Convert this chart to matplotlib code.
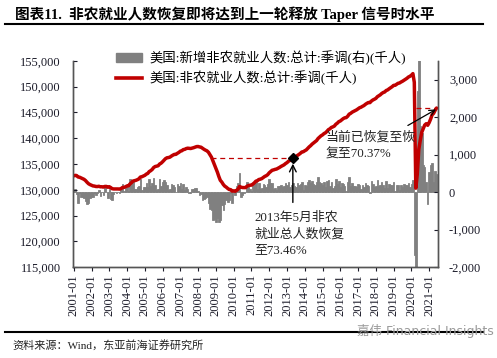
import numpy as np
import pandas as pd
import matplotlib
matplotlib.use('Agg')
import matplotlib.pyplot as plt
from matplotlib.ticker import FuncFormatter
from matplotlib.lines import Line2D
from matplotlib.patches import Patch

plt.rcParams['font.family'] = ['Liberation Serif', 'Noto Sans CJK SC']
plt.rcParams['axes.unicode_minus'] = False

# US nonfarm payrolls, SA, thousands (2001-01 .. 2021-06)
level_dec2000 = 132640
payems = [
    132698, 132788, 132750, 132465, 132429, 132292, 132170, 132016, 131775, 131452, 131168, 131001,  # 2001
    130870, 130741, 130711, 130630, 130618, 130672, 130573, 130580, 130513, 130638, 130648, 130491,  # 2002
    130586, 130414, 130203, 130153, 130155, 130143, 130153, 130127, 130233, 130441, 130461, 130581,  # 2003
    130739, 130780, 131116, 131366, 131676, 131757, 131826, 131950, 132112, 132464, 132528, 132657,  # 2004
    132794, 133034, 133157, 133519, 133690, 133932, 134303, 134502, 134567, 134650, 134990, 135150,  # 2005
    135429, 135743, 136022, 136199, 136243, 136323, 136529, 136712, 136860, 136860, 137068, 137239,  # 2006
    137477, 137566, 137780, 137836, 137984, 138059, 138024, 137998, 138077, 138157, 138272, 138369,  # 2007
    138386, 138302, 138250, 138035, 137845, 137676, 137543, 137263, 136804, 136323, 135584, 134879,  # 2008
    134092, 133388, 132585, 131831, 131499, 131030, 130701, 130502, 130246, 130043, 130019, 129738,  # 2009
    129775, 129707, 129876, 130122, 130635, 130497, 130426, 130414, 130412, 130676, 130801, 130878,  # 2010
    130895, 131108, 131334, 131660, 131741, 131980, 132049, 132157, 132380, 132582, 132718, 132924,  # 2011
    133283, 133534, 133775, 133851, 133951, 134018, 134168, 134334, 134525, 134673, 134833, 135072,  # 2012
    135262, 135534, 135674, 135870, 136100, 136265, 136407, 136640, 136833, 137050, 137324, 137369,  # 2013
    137563, 137726, 137998, 138313, 138547, 138850, 139069, 139271, 139542, 139939, 140212, 140464,  # 2014
    140641, 140905, 141033, 141324, 141648, 141815, 142082, 142197, 142350, 142700, 142919, 143206,  # 2015
    143331, 143563, 143790, 143952, 143990, 144261, 144658, 144816, 145050, 145202, 145366, 145496,  # 2016
    145711, 145911, 146004, 146183, 146327, 146573, 146758, 146920, 146898, 147196, 147416, 147551,  # 2017
    147719, 148048, 148212, 148410, 148667, 148860, 148963, 149250, 149369, 149590, 149789, 149985,  # 2018
    150245, 150261, 150452, 150642, 150704, 150891, 151039, 151243, 151423, 151610, 151864, 152003,  # 2019
    152212, 152523, 150840, 130303, 133002, 137802, 139566, 141149, 141865, 142545, 142809, 142503,  # 2020
    143036, 143746, 144531, 144809, 145372, 145850,                                                  # 2021
]
first_month = '2001-01'

months = pd.date_range(first_month, periods=len(payems), freq='MS')
change = np.diff(np.r_[level_dec2000, payems])

bar_label = '美国:新增非农就业人数:总计:季调(右)(千人)'
line_label = '美国:非农就业人数:总计:季调(千人)'

red = '#C00000'
grey = '#808080'
tick_col = '#1c1c2a'

fig = plt.figure(figsize=(4.97, 3.58), dpi=100)
ax = fig.add_axes([0.147, 0.254, 0.734, 0.576])
ax2 = ax.twinx()

ax2.bar(months, change, width=31, color=grey, edgecolor=grey, linewidth=0.6)
ax.plot(months, payems, color=red, lw=2.5, solid_capstyle='round')

ax.set_zorder(ax2.get_zorder() + 1)
ax.patch.set_visible(False)

ax.set_ylim(115000, 155000)
ax2.set_ylim(-2000, 3500)
ax.set_xlim(pd.Timestamp('2000-12-18'), pd.Timestamp('2021-06-28'))

ax.set_yticks(range(115000, 155001, 5000))
ax2.set_yticks(range(-2000, 3001, 1000))
fmt = FuncFormatter(lambda v, p: '{:,.0f}'.format(v))
ax.yaxis.set_major_formatter(fmt)
ax2.yaxis.set_major_formatter(fmt)

xt = pd.date_range('2001-01-01', '2021-01-01', freq='YS')
ax.set_xticks(xt)
ax.set_xticklabels([d.strftime('%Y-%m') for d in xt], rotation=90)

ax.tick_params(axis='y', direction='in', length=3, labelsize=9, pad=9, colors=tick_col)
ax2.tick_params(axis='y', direction='in', length=3, labelsize=9, pad=8, colors=tick_col)
ax.tick_params(axis='x', direction='out', length=3, labelsize=9, pad=2, colors=tick_col)
for a in (ax, ax2):
    a.spines['top'].set_visible(False)
    for s in ('left', 'right', 'bottom'):
        a.spines[s].set_color('#555555')
        a.spines[s].set_linewidth(1)

# annotation 1: 2013-05
d1 = pd.Timestamp('2013-05-01')
v1 = payems[list(months).index(d1)]
ax.plot([pd.Timestamp('2008-10-01'), d1], [v1, v1], color=red, lw=0.9, ls=(0, (4, 3)))
ax.plot([d1], [v1], marker='D', color='black', ms=5)
ax.annotate('', xy=(d1, v1 - 500), xytext=(d1, 127000),
            arrowprops=dict(arrowstyle='->', color='black', lw=1, mutation_scale=12))
ax.text(pd.Timestamp('2011-03-01'), 125800, '2013年5月非农\n就业总人数恢复\n至73.46%',
        fontsize=9.3, va='top', ha='left', linespacing=1.45, color='#222222')

# annotation 2: latest
v2 = payems[-1]
ax.plot([pd.Timestamp('2020-04-01'), pd.Timestamp('2021-08-10')], [v2, v2],
        color=red, lw=0.9, ls=(0, (4, 3)), clip_on=False)
ax.annotate('', xy=(pd.Timestamp('2021-07-10'), v2), xytext=(pd.Timestamp('2019-09-01'), 142200),
            arrowprops=dict(arrowstyle='->', color='black', lw=0.9, mutation_scale=10),
            annotation_clip=False)
ax.text(pd.Timestamp('2015-03-01'), 141300, '当前已恢复至恢\n复至70.37%',
        fontsize=9.3, va='top', ha='left', linespacing=1.45, color='#222222')

handles = [Patch(color=grey), Line2D([], [], color=red, lw=2.6)]
fig.legend(handles, [bar_label, line_label], loc='upper left',
           bbox_to_anchor=(0.222, 0.874), frameon=False, fontsize=9.6,
           handlelength=2.0, handletextpad=0.5, labelspacing=0.45, borderaxespad=0)

# title and footer
fig.text(0.03, 0.96, '图表11.  非农就业人数恢复即将达到上一轮释放 Taper 信号时水平',
         fontsize=10.5, fontweight='bold', va='center', ha='left')
fig.add_artist(Line2D([0.01, 0.972], [0.933, 0.933], color='black', lw=1.5))
fig.add_artist(Line2D([0.01, 0.972], [0.072, 0.072], color='black', lw=1.5))
fig.text(0.026, 0.036, '资料来源：Wind，东亚前海证券研究所', fontsize=8, va='center', ha='left',
         color='#222222')
fig.text(0.718, 0.075, '嘉伟 Financial Insights', fontsize=9, va='center', ha='left',
         color='#9a9a9a', family=['DejaVu Sans', 'Noto Sans CJK SC'])

fig.savefig('out.png', dpi=100)
